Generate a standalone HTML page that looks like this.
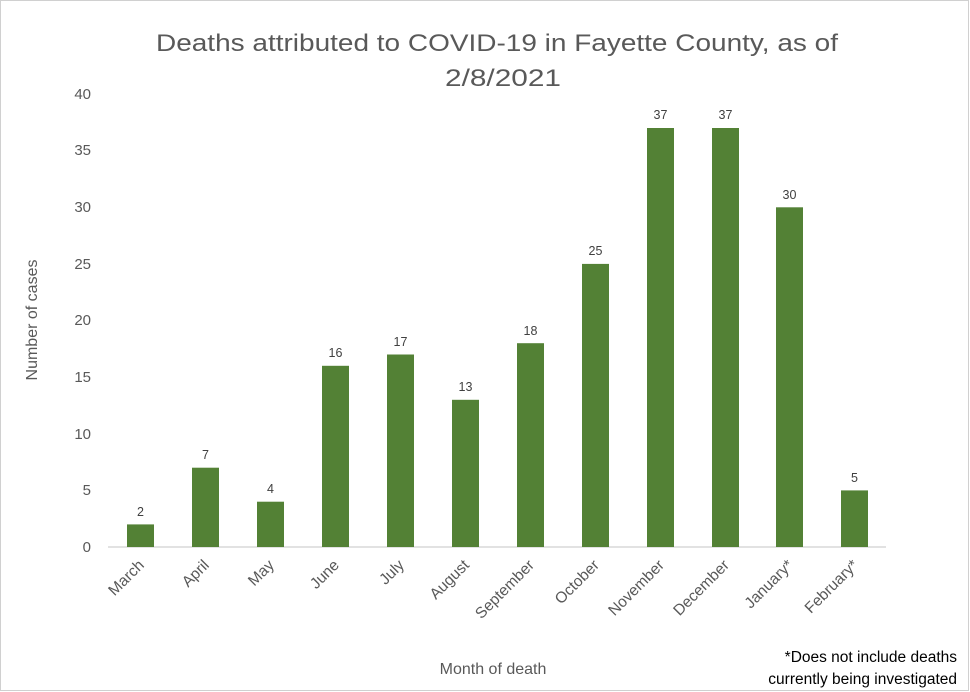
<!DOCTYPE html>
<html><head><meta charset="utf-8"><style>
html,body{margin:0;padding:0;background:#fff}
svg{display:block}
text{font-family:"Liberation Sans",sans-serif}
</style></head><body>
<svg width="970" height="692" viewBox="0 0 970 692" xmlns="http://www.w3.org/2000/svg">
<rect x="0.5" y="0.5" width="968" height="690" fill="#fff" stroke="#d0d0d0" stroke-width="1"/>
<g fill="#595959" font-size="24" text-anchor="middle">
<text x="497" y="51" textLength="682" lengthAdjust="spacingAndGlyphs">Deaths attributed to COVID-19 in Fayette County, as of</text>
<text x="503" y="86" textLength="116" lengthAdjust="spacingAndGlyphs">2/8/2021</text>
</g>
<g fill="#595959" font-size="15" text-anchor="end">
<text x="91" y="552">0</text>
<text x="91" y="495">5</text>
<text x="91" y="439">10</text>
<text x="91" y="382">15</text>
<text x="91" y="325">20</text>
<text x="91" y="269">25</text>
<text x="91" y="212">30</text>
<text x="91" y="155">35</text>
<text x="91" y="99">40</text>
</g>
<text x="37" y="320" fill="#595959" font-size="16" text-anchor="middle" transform="rotate(-90 37 320)">Number of cases</text>
<line x1="108" y1="547" x2="886" y2="547" stroke="#d9d9d9" stroke-width="1.5"/>
<g fill="#538135">
<rect x="127" y="524.4" width="27" height="22.6"/>
<rect x="192" y="467.7" width="27" height="79.3"/>
<rect x="257" y="501.7" width="27" height="45.3"/>
<rect x="322" y="365.8" width="27" height="181.2"/>
<rect x="387" y="354.5" width="27" height="192.5"/>
<rect x="452" y="399.8" width="27" height="147.2"/>
<rect x="517" y="343.2" width="27" height="203.8"/>
<rect x="582" y="263.9" width="27" height="283.1"/>
<rect x="647" y="128" width="27" height="419"/>
<rect x="712" y="128" width="27" height="419"/>
<rect x="776" y="207.3" width="27" height="339.7"/>
<rect x="841" y="490.4" width="27" height="56.6"/>
</g>
<g fill="#404040" font-size="12.5" text-anchor="middle">
<text x="140.5" y="516">2</text>
<text x="205.5" y="459">7</text>
<text x="270.5" y="493">4</text>
<text x="335.5" y="357">16</text>
<text x="400.5" y="346">17</text>
<text x="465.5" y="391">13</text>
<text x="530.5" y="335">18</text>
<text x="595.5" y="255">25</text>
<text x="660.5" y="119">37</text>
<text x="725.5" y="119">37</text>
<text x="789.5" y="199">30</text>
<text x="854.5" y="482">5</text>
</g>
<g fill="#595959" font-size="15.5" text-anchor="end">
<text transform="translate(145 566) rotate(-45)">March</text>
<text transform="translate(210 566) rotate(-45)">April</text>
<text transform="translate(275 566) rotate(-45)">May</text>
<text transform="translate(340 566) rotate(-45)">June</text>
<text transform="translate(405 566) rotate(-45)">July</text>
<text transform="translate(470 566) rotate(-45)">August</text>
<text transform="translate(535 566) rotate(-45)">September</text>
<text transform="translate(600 566) rotate(-45)">October</text>
<text transform="translate(665 566) rotate(-45)">November</text>
<text transform="translate(730 566) rotate(-45)">December</text>
<text transform="translate(794 566) rotate(-45)">January*</text>
<text transform="translate(859 566) rotate(-45)">February*</text>
</g>
<text x="493" y="674" fill="#595959" font-size="16" text-anchor="middle">Month of death</text>
<g fill="#000" font-size="15.5" text-anchor="end">
<text x="957" y="662">*Does not include deaths</text>
<text x="957" y="684">currently being investigated</text>
</g>
</svg>
</body></html>
